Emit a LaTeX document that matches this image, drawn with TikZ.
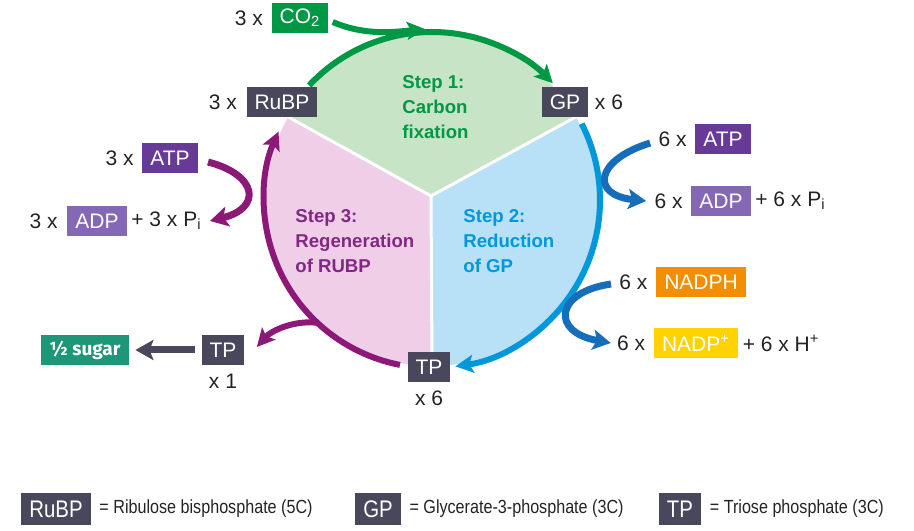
\documentclass[tikz,border=0pt]{standalone}
\usepackage{fontspec}
\setmainfont{Liberation Sans}
\newfontfamily\sugarfont{Fira Sans}
\usetikzlibrary{positioning,calc,arrows.meta}

\definecolor{boxgray}{RGB}{72,71,92}
\definecolor{txtgray}{RGB}{35,35,35}
\definecolor{cyclegreen}{RGB}{0,152,68}
\definecolor{fillgreen}{RGB}{200,228,198}
\definecolor{fillpink}{RGB}{240,206,232}
\definecolor{fillblue}{RGB}{184,224,246}
\definecolor{cyclepurple}{RGB}{140,24,120}
\definecolor{cycleblue}{RGB}{0,152,218}
\definecolor{darkblue}{RGB}{22,110,186}
\definecolor{atpcol}{RGB}{102,58,150}
\definecolor{adpcol}{RGB}{132,104,182}
\definecolor{nadphcol}{RGB}{242,142,0}
\definecolor{nadpcol}{RGB}{255,210,0}
\definecolor{sugarcol}{RGB}{30,150,120}
\definecolor{steppurple}{RGB}{130,40,130}

\tikzset{
  mol/.style={fill=#1, text=white, font=\fontsize{10.5}{12}\selectfont,
    minimum height=15pt, inner xsep=4pt, inner ysep=0pt},
  mol/.default=boxgray,
  lbl/.style={text=txtgray, font=\fontsize{10.5}{12}\selectfont, inner sep=0pt},
  steptext/.style={font=\fontsize{9.3}{12.5}\selectfont\bfseries, align=left,
    anchor=west, inner sep=0pt, text=#1},
  cyclearrow/.style={draw=#1, line width=3pt, -{Stealth[length=9pt,width=9pt,inset=2pt]}},
  sidearrow/.style={draw=#1, line width=3.5pt, -{Stealth[length=9pt,width=10pt,inset=2pt]}},
  legbox/.style={fill=boxgray, text=white, font=\fontsize{12}{13}\selectfont,
    minimum height=16pt, inner xsep=4pt, inner ysep=0pt},
  legtxt/.style={text=txtgray, font=\fontsize{9.5}{11}\selectfont, inner sep=0pt}
}
\newcommand{\narrow}[1]{\scalebox{0.85}[1]{#1}}

\begin{document}
\begin{tikzpicture}[x=0.5pt,y=0.5pt]
\useasboundingbox (0,0) rectangle (914,530);
\coordinate (ctr) at (432,330);
\coordinate (vtx) at (431,334);

% the three sectors
\fill[fillgreen] (vtx) -- ($(ctr)+(150:166)$) arc[start angle=150,end angle=30,radius=166] -- cycle;
\fill[fillblue] (vtx) -- ($(ctr)+(30:166)$) arc[start angle=30,end angle=-90,radius=166] -- cycle;
\fill[fillpink] (vtx) -- ($(ctr)+(270:166)$) arc[start angle=270,end angle=150,radius=166] -- cycle;
\foreach \a in {150,30,270}
  \draw[white, line width=1.5pt] (vtx) -- ($(ctr)+(\a:166)$);

\node[steptext=cyclegreen] (step1) at (402,423) {Step 1:\\Carbon\\fixation};
\node[steptext=cycleblue] (step2) at (463,289) {Step 2:\\Reduction\\of GP};
\node[steptext=steppurple] (step3) at (295,289) {Step 3:\\Regeneration\\of RUBP};

% cycle arrows
\coordinate (g1) at ($(ctr)+(137:168)$);
\coordinate (b1) at ($(ctr)+(27:168)$);
\coordinate (p1) at ($(ctr)+(259:168)$);
\coordinate (brn) at ($(ctr)+(227:168)$);
\coordinate (co2in) at (425,501);
\draw[cyclearrow=cyclegreen] (g1) arc[start angle=137,end angle=44,radius=168];
\draw[cyclearrow=cycleblue] (b1) arc[start angle=27,end angle=-82,radius=168];
\draw[cyclearrow=cyclepurple] (p1) arc[start angle=259,end angle=156,radius=168];

% molecules on the cycle
\node[mol=cyclegreen] (co2) at (300,512) {CO\textsubscript{2}};
\node[lbl, left=4pt of co2] (co2lbl) {3 x};
\node[mol] (rubp) at (282,428) {RuBP};
\node[lbl, left=4.5pt of rubp] (rubplbl) {3 x};
\node[mol] (gp) at (565,428) {GP};
\node[lbl, right=3pt of gp] (gplbl) {x 6};
\node[mol] (tpm) at (429,163) {TP};
\node[lbl, below=4pt of tpm] (tpmlbl) {x 6};
\node[mol] (tps) at (223,180) {TP};
\node[lbl, below=4pt of tps] (tpslbl) {x 1};
\node[mol=sugarcol, minimum width=44pt] (sugar) at (85,180) {\sugarfont\bfseries\fontsize{9.5}{11}\selectfont ½ sugar};

% ATP / ADP, left
\node[mol=atpcol] (atpL) at (170,372) {ATP};
\node[lbl, left=4pt of atpL] (atpLlbl) {3 x};
\node[mol=adpcol] (adpL) at (97,309) {ADP};
\node[lbl, left=4.5pt of adpL] (adpLlbl) {3 x};
\node[lbl, right=2pt of adpL] (adpLplus) {+ 3 x P\textsubscript{i}};

% ATP / ADP, right
\node[mol=atpcol] (atpR) at (723,391) {ATP};
\node[lbl, left=4pt of atpR] (atpRlbl) {6 x};
\node[mol=adpcol] (adpR) at (721,329) {ADP};
\node[lbl, left=4pt of adpR] (adpRlbl) {6 x};
\node[lbl, right=2pt of adpR] (adpRplus) {+ 6 x P\textsubscript{i}};

% NADPH / NADP+
\node[mol=nadphcol] (nadph) at (701,248) {NADPH};
\node[lbl, left=4pt of nadph] (nadphlbl) {6 x};
\node[mol=nadpcol] (nadp) at (696,187) {NADP\textsuperscript{+}};
\node[lbl, left=4pt of nadp] (nadplbl) {6 x};
\node[lbl, right=2pt of nadp] (nadpplus) {+ 6 x H\textsuperscript{+}};

% side arrows
\draw[cyclearrow=cyclegreen] ([xshift=2pt,yshift=-2pt]co2.east) .. controls (365,494) and (395,498) .. (co2in);
\draw[cyclearrow=cyclepurple] (brn) .. controls (295,210) and (272,200) .. ([xshift=6pt,yshift=1.5pt]tps.east);
\draw[sidearrow=boxgray, shorten <=3pt, shorten >=3pt] (tps.west) -- (sugar.east);
\draw[sidearrow=cyclepurple] ([xshift=5pt,yshift=-2pt]atpL.east) .. controls (258,355) and (262,322) .. ([xshift=4pt]adpLplus.east);
\draw[sidearrow=darkblue] ([xshift=-4pt,yshift=-2pt]atpRlbl.west) .. controls (595,370) and (590,335) .. ([xshift=-4pt]adpRlbl.west);
\draw[sidearrow=darkblue] ([xshift=-4pt,yshift=-1pt]nadphlbl.west) .. controls (555,238) and (550,198) .. ([xshift=-3pt]nadplbl.west);

% legend
\node[legbox] (legru) at (56,21) {\narrow{RuBP}};
\node[legtxt, right=4pt of legru] (legrutxt) {\narrow{= Ribulose bisphosphate (5C)}};
\node[legbox] (leggp) at (378,21) {\narrow{GP}};
\node[legtxt, right=4pt of leggp] (leggptxt) {\narrow{= Glycerate-3-phosphate (3C)}};
\node[legbox] (legtp) at (680,21) {\narrow{TP}};
\node[legtxt, right=4pt of legtp] (legtptxt) {\narrow{= Triose phosphate (3C)}};
\end{tikzpicture}
\end{document}
